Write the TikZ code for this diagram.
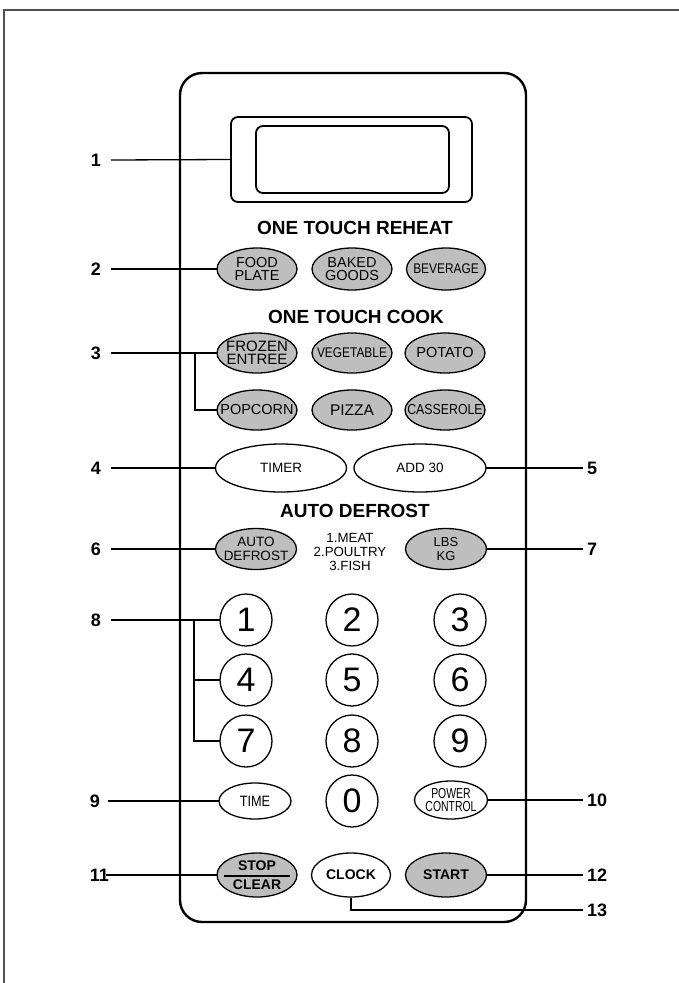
\documentclass[tikz,border=0pt]{standalone}
\usepackage{fontspec}
\setmainfont{Liberation Sans}
\newfontfamily\cnd{Liberation Sans}[FakeStretch=0.85]
\newfontfamily\cndx{Liberation Sans}[FakeStretch=0.72]
\usetikzlibrary{shapes.geometric}
\definecolor{btngray}{RGB}{190,190,190}
\definecolor{framegray}{RGB}{80,80,80}
\begin{document}
\begin{tikzpicture}[x=1pt,y=-1pt,
  panel/.style={draw, line width=2.4pt, rounded corners=22pt, inner sep=0pt},
  lcd/.style={draw, line width=1.8pt, rounded corners=7pt, inner sep=0pt},
  key/.style={ellipse, draw, line width=1.3pt, inner sep=0pt, fill=white},
  gkey/.style={key, fill=btngray},
  num/.style={circle, draw, line width=1.3pt, inner sep=0pt, minimum size=52pt, fill=white, font=\fontsize{34}{34}\selectfont},
  ktxt/.style={align=center, inner sep=0pt},
  title/.style={font=\bfseries\fontsize{19}{19}\selectfont, inner sep=0pt},
  callout/.style={font=\bfseries\fontsize{18}{18}\selectfont, inner sep=0pt},
  lead/.style={line width=1.3pt},
]
\useasboundingbox (0,0) rectangle (679,983);
% outer frame
\draw[line width=1.4pt, framegray] (4,983) -- (4,10) -- (679,10);
% panel
\node[panel, minimum width=346pt, minimum height=849pt] (pnl) at (353,497.5) {};
% display
\node[lcd, minimum width=241pt, minimum height=85pt] (disp) at (351.5,159.5) {};
\node[lcd, minimum width=193pt, minimum height=67pt] (lcdin) at (352.5,159.5) {};
% titles
\node[title] (t1) at (355,228) {ONE TOUCH REHEAT};
\node[title] (t2) at (356,317) {ONE TOUCH COOK};
\node[title] (t3) at (355,511) {AUTO DEFROST};

% callout labels
\node[callout, anchor=east] (n1) at (101,160) {1};
\node[callout, anchor=east] (n2) at (101,269) {2};
\node[callout, anchor=east] (n3) at (101,353) {3};
\node[callout, anchor=east] (n4) at (101,468) {4};
\node[callout, anchor=east] (n6) at (101,549) {6};
\node[callout, anchor=east] (n8) at (101,620) {8};
\node[callout, anchor=east] (n9) at (100,801) {9};
\node[callout, anchor=east] (n11) at (109,875) {11};
\node[callout, anchor=west] (n5) at (587,468) {5};
\node[callout, anchor=west] (n7) at (587,549) {7};
\node[callout, anchor=west] (n10) at (587,800) {10};
\node[callout, anchor=west] (n12) at (587,875) {12};
\node[callout, anchor=west] (n13) at (587,910) {13};

% leader lines (drawn before keys)
\coordinate (b3) at (195,353);
\coordinate (b8) at (194,620);
\draw[lead] ([xshift=10pt]n1.east) -- (disp.west);
\draw[lead] ([xshift=10pt]n2.east) -- (218,269);
\draw[lead] ([xshift=10pt]n3.east) -- (218,353);
\draw[lead] (b3) |- (218,410);
\draw[lead] ([xshift=10pt]n4.east) -- (216,468);
\draw[lead] ([xshift=10pt]n6.east) -- (216,549);
\draw[lead] ([xshift=10pt]n8.east) -- (220,620);
\draw[lead] (b8) |- (220,680);
\draw[lead] (b8) |- (220,741);
\draw[lead] ([xshift=8pt]n9.east) -- (219,801);
\draw[lead] ([xshift=-3pt]n11.east) -- (217,875);
\draw[lead] ([xshift=-4pt]n5.west) -- (486,468);
\draw[lead] ([xshift=-4pt]n7.west) -- (486,549);
\draw[lead] ([xshift=-4pt]n10.west) -- (487,800);
\draw[lead] ([xshift=-4pt]n12.west) -- (486,875);

% one touch reheat
\node[gkey, minimum width=80pt, minimum height=42pt] (fp) at (257,269) {};
\node[ktxt, font=\fontsize{14.5}{13}\selectfont] (fpt) at (fp) {FOOD\\PLATE};
\node[gkey, minimum width=80pt, minimum height=42pt] (bg) at (352,269) {};
\node[ktxt, font=\fontsize{14.5}{13}\selectfont] (bgt) at (bg) {BAKED\\GOODS};
\node[gkey, minimum width=79pt, minimum height=42pt] (bev) at (446,269) {};
\node[ktxt, font=\cnd\fontsize{14}{12}\selectfont] (bevt) at (bev) {BEVERAGE};

% one touch cook
\node[gkey, minimum width=80pt, minimum height=40pt] (fe) at (257,353) {};
\node[ktxt, font=\fontsize{15}{13.5}\selectfont] (fet) at (fe) {FROZEN\\ENTREE};
\node[gkey, minimum width=80pt, minimum height=40pt] (veg) at (352,353) {};
\node[ktxt, font=\cnd\fontsize{14}{12}\selectfont] (vegt) at (veg) {VEGETABLE};
\node[gkey, minimum width=80pt, minimum height=40pt] (pot) at (445,353) {};
\node[ktxt, font=\fontsize{14.5}{12}\selectfont] (pott) at (pot) {POTATO};
\node[gkey, minimum width=80pt, minimum height=40pt] (pop) at (257,410) {};
\node[ktxt, font=\fontsize{14.5}{12}\selectfont] (popt) at (pop) {POPCORN};
\node[gkey, minimum width=80pt, minimum height=40pt] (piz) at (352,410) {};
\node[ktxt, font=\fontsize{15.5}{12}\selectfont] (pizt) at (piz) {PIZZA};
\node[gkey, minimum width=80pt, minimum height=40pt] (cas) at (445,410) {};
\node[ktxt, font=\cnd\fontsize{14.5}{12}\selectfont] (cast) at (cas) {CASSEROLE};

% timer / add 30
\node[key, minimum width=131pt, minimum height=48pt] (tmr) at (281,468) {};
\node[ktxt, font=\fontsize{13.5}{12}\selectfont] (tmrt) at (tmr) {TIMER};
\node[key, minimum width=132pt, minimum height=48pt] (add) at (420,468) {};
\node[ktxt, font=\fontsize{13.5}{12}\selectfont] (addt) at (add) {ADD 30};

% auto defrost
\node[gkey, minimum width=81pt, minimum height=41pt] (ad) at (256,549) {};
\node[ktxt, font=\fontsize{13.5}{14}\selectfont] (adt) at (ad) {AUTO\\DEFROST};
\node[ktxt, font=\fontsize{13.3}{14}\selectfont] (menu) at (350,552) {1.MEAT\\2.POULTRY\\3.FISH};
\node[gkey, minimum width=81pt, minimum height=41pt] (lbs) at (446,549) {};
\node[ktxt, font=\fontsize{13}{14}\selectfont] (lbst) at (lbs) {LBS\\KG};

% number keys
\node[num] (c1) at (246,620) {1};
\node[num] (c2) at (352,620) {2};
\node[num] (c3) at (460,620) {3};
\node[num] (c4) at (246,680) {4};
\node[num] (c5) at (352,680) {5};
\node[num] (c6) at (460,680) {6};
\node[num] (c7) at (246,741) {7};
\node[num] (c8) at (352,741) {8};
\node[num] (c9) at (460,741) {9};
\node[num] (c0) at (352,801) {0};

% time / power
\node[key, minimum width=72pt, minimum height=36pt] (tim) at (255,801) {};
\node[ktxt, font=\cnd\fontsize{15}{12}\selectfont] (timt) at (tim) {TIME};
\node[key, minimum width=73pt, minimum height=38pt] (pc) at (451,800) {};
\node[ktxt, font=\cndx\fontsize{14.5}{13}\selectfont] (pct) at (pc) {POWER\\CONTROL};

% bottom row
\node[gkey, minimum width=80pt, minimum height=44pt] (stop) at (257,875) {};
\node[inner sep=0pt, font=\bfseries\fontsize{14}{14}\selectfont] (stopt) at (257,866) {STOP};
\node[inner sep=0pt, font=\bfseries\fontsize{14}{14}\selectfont] (cleart) at (257,885) {CLEAR};
\draw[line width=1.2pt] ([shift={(-33pt,-1pt)}]stop.center) -- ([shift={(33pt,-1pt)}]stop.center);
\node[key, minimum width=79pt, minimum height=44pt] (clk) at (351,875) {};
\node[ktxt, font=\bfseries\fontsize{14}{14}\selectfont] (clkt) at (clk) {CLOCK};
\node[gkey, minimum width=81pt, minimum height=44pt] (start) at (446,875) {};
\node[ktxt, font=\bfseries\fontsize{14}{14}\selectfont] (startt) at (start) {START};
\draw[lead] (clk.south) |- ([xshift=-4pt]n13.west);
\end{tikzpicture}
\end{document}
